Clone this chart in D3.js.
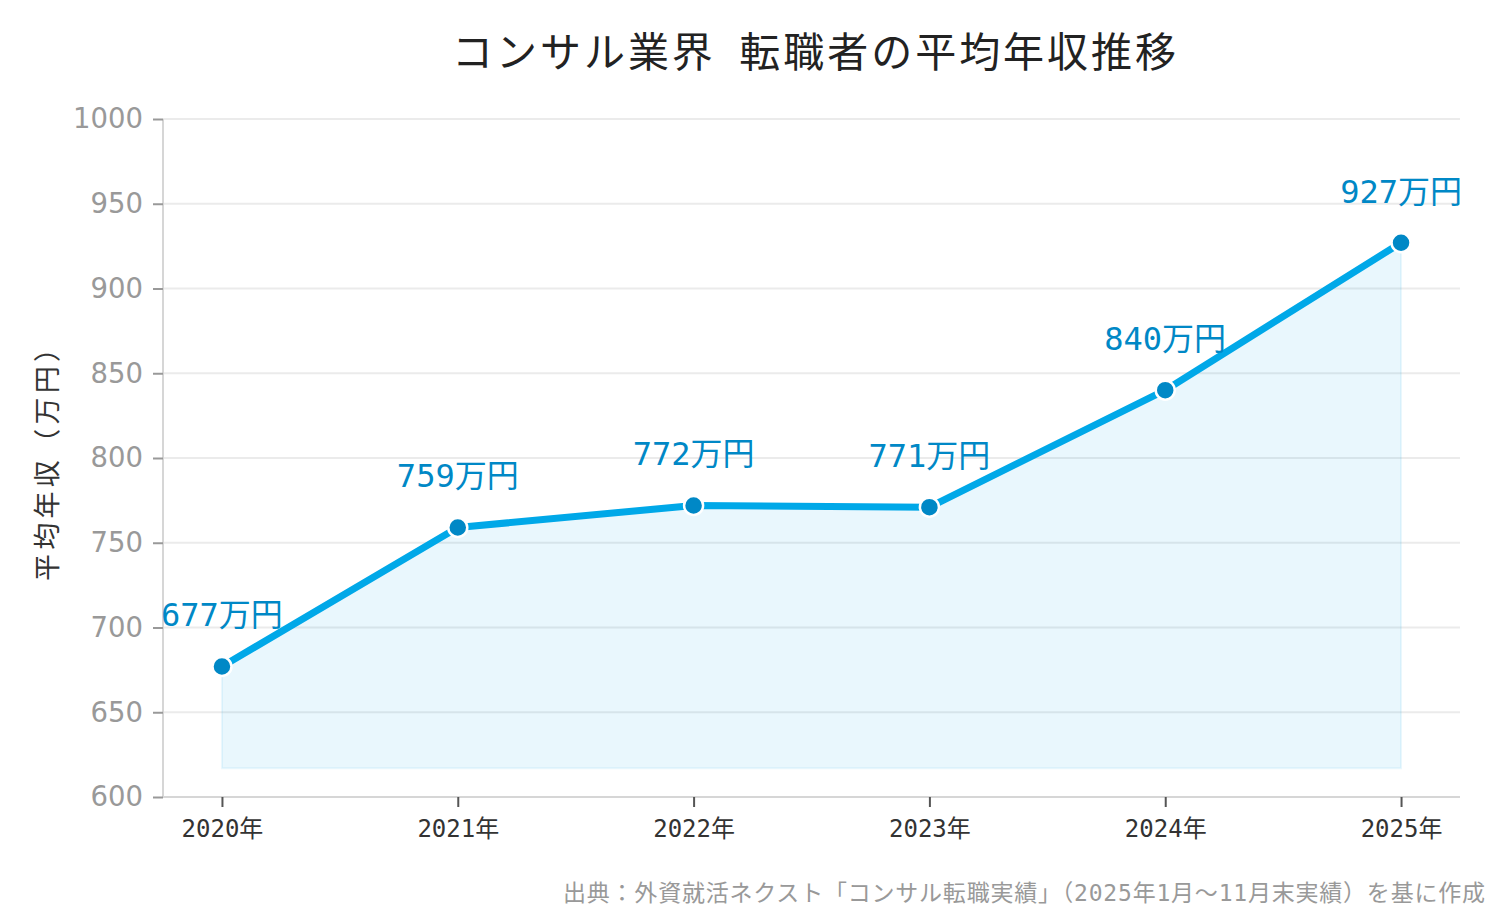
<!DOCTYPE html>
<html>
<head>
<meta charset="utf-8">
<script src="https://cdn.jsdelivr.net/npm/d3@7"></script>
<style>
  body { margin: 0; background: #fff; }
  svg { display: block; }
</style>
</head>
<body>
<svg id="chart" width="1500" height="920"></svg>
<script>
// 年別の平均年収（万円）
const years = ["2020年", "2021年", "2022年", "2023年", "2024年", "2025年"];
const salary = [677, 759, 772, 771, 840, 927];
const yTicks = [600, 650, 700, 750, 800, 850, 900, 950, 1000];

const titleText = "コンサル業界\u2002転職者の平均年収推移";
const yLabel = "平均年収（万円）";
const sourceText = "出典：外資就活ネクスト「コンサル転職実績」（2025年1月〜11月末実績）を基に作成";

const jpFont = "'Noto Sans CJK JP', 'Noto Sans', sans-serif";
const monoFont = "'DejaVu Sans Mono', 'Noto Sans CJK JP', monospace";

let margin = {top: 119, right: 40, bottom: 123, left: 163};
let width = 1500 - margin.left - margin.right;
let height = 920 - margin.top - margin.bottom;

let svg = d3.select("#chart");

let x = d3.scalePoint()
  .domain(years)
  .range([0, width])
  .padding(0.25);

let y = d3.scaleLinear()
  .domain([600, 1000])
  .range([height, 0]);

let g = svg.append("g")
  .attr("transform", "translate(" + margin.left + "," + margin.top + ")");

// title
svg.append("text")
  .attr("x", 452)
  .attr("y", 67)
  .attr("textLength", 724)
  .attr("lengthAdjust", "spacing")
  .style("font-family", jpFont)
  .style("font-size", "41px")
  .style("fill", "#222")
  .text(titleText);

// grid lines
g.append("g")
  .selectAll("line")
  .data(yTicks)
  .enter()
  .append("line")
  .attr("x1", 0)
  .attr("x2", width)
  .attr("y1", d => y(d))
  .attr("y2", d => y(d))
  .attr("stroke", "#ebebeb")
  .attr("stroke-width", 2);

// area under line (base = min - 60)
let base = d3.min(salary) - 60;
let area = d3.area()
  .x((d, i) => x(years[i]))
  .y0(y(base))
  .y1(d => y(d));

g.append("path")
  .datum(salary)
  .attr("d", area)
  .attr("fill", "#00a8e8")
  .attr("fill-opacity", 0.085)
  .attr("stroke", "#00a8e8")
  .attr("stroke-opacity", 0.08)
  .attr("stroke-width", 2);

// axes
let yAxis = d3.axisLeft(y).tickValues(yTicks).tickFormat(d3.format("d")).tickSize(10).tickPadding(10);
let xAxis = d3.axisBottom(x).tickSize(10).tickPadding(8);

let yG = g.append("g").call(yAxis);
yG.select(".domain").attr("stroke", "#d6d6d6").attr("stroke-width", 2)
  .attr("d", "M0," + height + "V0");
yG.selectAll(".tick line").attr("stroke", "#999").attr("stroke-width", 2);
yG.selectAll(".tick text")
  .style("font-family", "'DejaVu Sans', Verdana, sans-serif")
  .style("font-size", "27.5px")
  .style("fill", "#999");

let xG = g.append("g")
  .attr("transform", "translate(0," + height + ")")
  .call(xAxis);
xG.select(".domain").attr("stroke", "#d6d6d6").attr("stroke-width", 2)
  .attr("d", "M0,0H" + width);
xG.selectAll(".tick line").attr("stroke", "#555").attr("stroke-width", 2);
xG.selectAll(".tick text")
  .attr("dy", "0.9em")
  .style("font-family", monoFont)
  .style("font-size", "24px")
  .style("fill", "#333");

// line
let line = d3.line()
  .x((d, i) => x(years[i]))
  .y(d => y(d));

g.append("path")
  .datum(salary)
  .attr("d", line)
  .attr("fill", "none")
  .attr("stroke", "#00a8e8")
  .attr("stroke-width", 7)
  .attr("stroke-linejoin", "round");

// markers
g.selectAll("circle.pt")
  .data(salary)
  .enter()
  .append("circle")
  .attr("class", "pt")
  .attr("cx", (d, i) => x(years[i]))
  .attr("cy", d => y(d))
  .attr("r", 9.5)
  .attr("fill", "#0088c6")
  .attr("stroke", "#fff")
  .attr("stroke-width", 2.5);

// value labels
g.selectAll("text.val")
  .data(salary)
  .enter()
  .append("text")
  .attr("class", "val")
  .attr("x", (d, i) => x(years[i]))
  .attr("y", d => y(d) - 40)
  .attr("text-anchor", "middle")
  .style("font-family", monoFont)
  .style("font-size", "32px")
  .style("fill", "#0088c6")
  .text(d => d + "万円");

// y label
svg.append("text")
  .attr("transform", "translate(57,458) rotate(-90)")
  .attr("text-anchor", "middle")
  .attr("textLength", 246)
  .attr("lengthAdjust", "spacing")
  .style("font-family", jpFont)
  .style("font-size", "27px")
  .style("fill", "#333")
  .text(yLabel);

// source
svg.append("text")
  .attr("x", 563)
  .attr("y", 901)
  .attr("textLength", 922)
  .attr("lengthAdjust", "spacing")
  .style("font-family", monoFont)
  .style("font-size", "23px")
  .style("fill", "#999")
  .text(sourceText);
</script>
</body>
</html>
